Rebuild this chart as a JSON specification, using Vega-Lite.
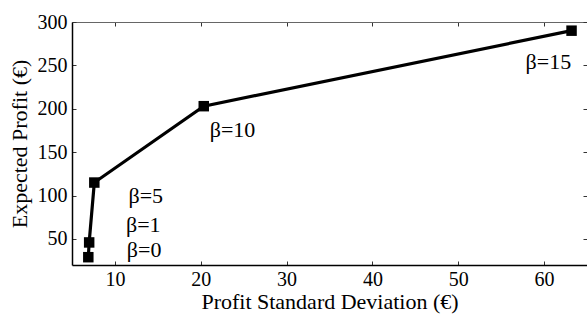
{
  "$schema": "https://vega.github.io/schema/vega-lite/v6.json",
  "width": 515,
  "height": 243,
  "autosize": "none",
  "padding": {"left": 72, "top": 22, "right": 0, "bottom": 51},
  "background": "white",
  "config": {
    "view": {"stroke": null},
    "font": "Liberation Serif",
    "axis": {
      "grid": false,
      "labelFont": "Liberation Serif",
      "titleFont": "Liberation Serif",
      "labelFontSize": 20,
      "titleFontSize": 22,
      "labelColor": "#000",
      "titleColor": "#000",
      "titleFontWeight": "normal",
      "domainColor": "#000",
      "domainWidth": 1.5,
      "tickColor": "#333",
      "tickSize": -4,
      "tickWidth": 1
    }
  },
  "datasets": {
    "pts": [
      {"beta": 0, "sd": 6.9, "profit": 29},
      {"beta": 1, "sd": 7.0, "profit": 46},
      {"beta": 5, "sd": 7.6, "profit": 115},
      {"beta": 10, "sd": 20.35, "profit": 203},
      {"beta": 15, "sd": 63.2, "profit": 290}
    ],
    "labels": [
      {"label": "β=0", "lx": 13.4, "ly": 37},
      {"label": "β=1", "lx": 13.3, "ly": 66},
      {"label": "β=5", "lx": 13.6, "ly": 99},
      {"label": "β=10", "lx": 23.7, "ly": 175},
      {"label": "β=15", "lx": 60.5, "ly": 254}
    ]
  },
  "layer": [
    {
      "data": {"name": "pts"},
      "mark": {"type": "line", "color": "#000", "strokeWidth": 3.2, "point": {"shape": "square", "size": 110, "filled": true, "color": "#000", "opacity": 1}},
      "encoding": {
        "x": {"field": "sd", "type": "quantitative", "scale": {"domain": [5, 65], "nice": false, "zero": false},
          "axis": {"values": [10, 20, 30, 40, 50, 60], "title": "Profit Standard Deviation (€)", "labelPadding": 8, "titlePadding": 2}},
        "y": {"field": "profit", "type": "quantitative", "scale": {"domain": [20, 300], "nice": false, "zero": false},
          "axis": {"values": [50, 100, 150, 200, 250, 300], "title": "Expected Profit (€)", "labelPadding": 9, "titlePadding": 6}}
      }
    },
    {
      "data": {"name": "labels"},
      "mark": {"type": "text", "font": "Liberation Serif", "fontSize": 22, "color": "#000", "align": "center", "baseline": "middle"},
      "encoding": {
        "x": {"field": "lx", "type": "quantitative", "scale": {"domain": [5, 65], "nice": false, "zero": false},
          "axis": {"orient": "top", "values": [10, 20, 30, 40, 50, 60], "labels": false, "title": null, "domainColor": "#666", "domainWidth": 1}},
        "y": {"field": "ly", "type": "quantitative", "scale": {"domain": [20, 300], "nice": false, "zero": false},
          "axis": {"orient": "right", "values": [50, 100, 150, 200, 250, 300], "labels": false, "title": null, "domainColor": "#666", "domainWidth": 1}},
        "text": {"field": "label"}
      }
    }
  ],
  "resolve": {"axis": {"x": "independent", "y": "independent"}}
}
